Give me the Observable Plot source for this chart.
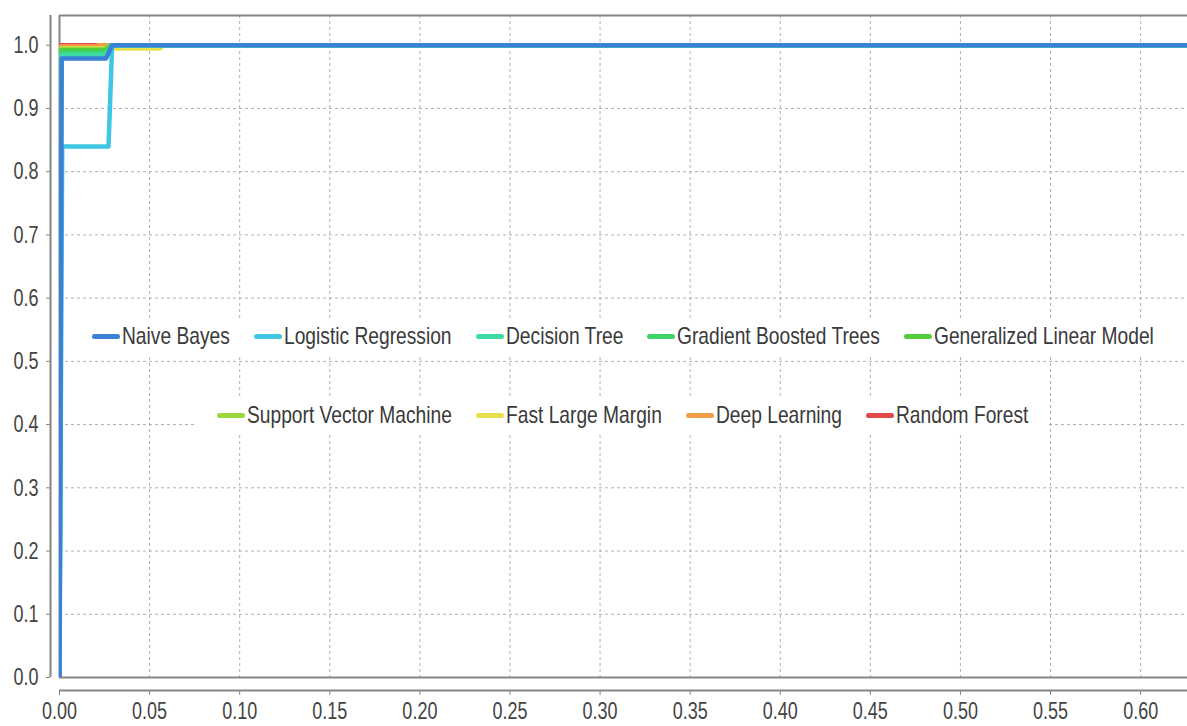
<!DOCTYPE html>
<html>
<head>
<meta charset="utf-8">
<script src="https://cdn.jsdelivr.net/npm/d3@7"></script>
<script src="https://cdn.jsdelivr.net/npm/@observablehq/plot@0.6"></script>
<style>
  html, body { margin: 0; padding: 0; background: #fff; }
  #wrap { position: relative; width: 1187px; height: 726px; overflow: hidden;
          font-family: "Liberation Sans", Arial, sans-serif; }
  .lrow { position: absolute; left: 59px; right: 0; height: 36px; display: flex; justify-content: center; align-items: center; }
  .lbox { background: #fff; display: flex; align-items: center; padding: 0 8px; height: 36px; }
  .item { display: flex; align-items: center; margin: 0 12px; font-size: 24px; color: #3a3a3a; white-space: nowrap; }
  .sw { display: inline-block; width: 28px; height: 5px; border-radius: 3px; margin-right: 2px; flex: none; }
  .tx { display: inline-block; transform-origin: 0 50%; }
</style>
</head>
<body>
<div id="wrap"></div>
<script>
// ---- data ----
const models = ["Naive Bayes", "Logistic Regression", "Decision Tree", "Gradient Boosted Trees",
  "Generalized Linear Model", "Support Vector Machine", "Fast Large Margin", "Deep Learning", "Random Forest"];
const colors = ["#3a80d6", "#3fc6e2", "#3ddca4", "#3fd267", "#55cc3c", "#9ad83e", "#e6e04a", "#eea049", "#e44848"];
const legendRows = [models.slice(0, 5), models.slice(5)];

// ROC points (false positive rate, true positive rate) per model
const fprNB  = [0, 0.0012, 0.0258, 0.0292, 1];  const tprNB  = [0, 0.979, 0.979, 1.0, 1.0];
const fprLR  = [0, 0.0015, 0.0272, 0.0292, 1];  const tprLR  = [0, 0.840, 0.840, 1.0, 1.0];
const fprDT  = [0, 0.0010, 0.0258, 0.0290, 1];  const tprDT  = [0, 0.985, 0.985, 1.0, 1.0];
const fprGBT = [0, 0.0010, 0.0258, 0.0288, 1];  const tprGBT = [0, 0.989, 0.989, 1.0, 1.0];
const fprGLM = [0, 0.0008, 0.0255, 0.0285, 1];  const tprGLM = [0, 0.992, 0.992, 1.0, 1.0];
const fprSVM = [0, 0.0008, 0.0250, 0.0280, 1];  const tprSVM = [0, 0.994, 0.994, 1.0, 1.0];
const fprFLM = [0, 0.0008, 0.0560, 0.0575, 1];  const tprFLM = [0, 0.995, 0.995, 1.0, 1.0];
const fprDL  = [0, 0.0006, 0.0200, 0.0220, 1];  const tprDL  = [0, 0.998, 0.998, 1.0, 1.0];
const fprRF  = [0, 0.0005, 1];                  const tprRF  = [0, 1.0, 1.0];

const xTicks = [0, 0.05, 0.10, 0.15, 0.20, 0.25, 0.30, 0.35, 0.40, 0.45, 0.50, 0.55, 0.60];
const yTicks = [0, 0.1, 0.2, 0.3, 0.4, 0.5, 0.6, 0.7, 0.8, 0.9, 1.0];
const xDomain = [0, 0.626];
const yDomain = [0, 1.047];

// ---- build table ----
const curves = {
  "Naive Bayes": [fprNB, tprNB], "Logistic Regression": [fprLR, tprLR], "Decision Tree": [fprDT, tprDT],
  "Gradient Boosted Trees": [fprGBT, tprGBT], "Generalized Linear Model": [fprGLM, tprGLM],
  "Support Vector Machine": [fprSVM, tprSVM], "Fast Large Margin": [fprFLM, tprFLM],
  "Deep Learning": [fprDL, tprDL], "Random Forest": [fprRF, tprRF]
};
const drawOrder = models.slice().reverse();
const rows = [];
drawOrder.forEach(m => {
  const [xs, ys] = curves[m];
  xs.forEach((x, i) => rows.push({model: m, fpr: x, tpr: ys[i]}));
});

const axisColor = "#858585";
const font = '"Liberation Sans", Arial, sans-serif';
const tickSqueeze = 0.75;
const legendSqueeze = 0.8;

const chart = Plot.plot({
  width: 1187,
  height: 726,
  marginLeft: 59,
  marginRight: 0,
  marginTop: 15,
  marginBottom: 49,
  style: {fontFamily: font, fontSize: "24px", color: "#444", background: "#fff", overflow: "visible"},
  x: {domain: xDomain},
  y: {domain: yDomain},
  color: {domain: models, range: colors},
  marks: [
    Plot.gridX(xTicks.slice(1), {stroke: "#b0b0b0", strokeOpacity: 1, strokeDasharray: "3,3"}),
    Plot.gridY(yTicks.slice(1), {stroke: "#b0b0b0", strokeOpacity: 1, strokeDasharray: "3,3"}),
    Plot.ruleY([yDomain[1]], {stroke: axisColor, strokeWidth: 2}),
    Plot.ruleY([0], {stroke: axisColor, strokeWidth: 2}),
    Plot.ruleX([0], {stroke: axisColor, strokeWidth: 2}),
    // separate axis lines
    Plot.ruleY([0], {stroke: axisColor, strokeWidth: 2, dy: 13}),
    Plot.ruleX([0], {stroke: axisColor, strokeWidth: 2, dx: -9}),
    Plot.axisX(xTicks, {tickFormat: d3.format(".2f"), tickSize: 5, tickPadding: 6, dy: 13,
      stroke: axisColor, fill: "#444", label: null, fontSize: 24}),
    Plot.axisY(yTicks, {tickFormat: d3.format(".1f"), tickSize: 4, tickPadding: 8, dx: -9,
      stroke: axisColor, fill: "#444", label: null, fontSize: 24}),
    Plot.line(rows, {x: "fpr", y: "tpr", z: "model", stroke: "model", strokeWidth: 4.5,
      strokeLinejoin: "round", strokeLinecap: "round", clip: true})
  ]
});

const wrap = document.getElementById("wrap");
wrap.appendChild(chart);

// condense tick labels (narrow face look)
chart.querySelectorAll("text").forEach(t => {
  const w = t.getComputedTextLength();
  if (w > 0) {
    t.setAttribute("textLength", (w * tickSqueeze).toFixed(2));
    t.setAttribute("lengthAdjust", "spacingAndGlyphs");
  }
});

const rowTops = [318, 397];
legendRows.forEach((r, ri) => {
  const row = document.createElement("div");
  row.className = "lrow";
  row.style.top = rowTops[ri] + "px";
  const box = document.createElement("div");
  box.className = "lbox";
  r.forEach(m => {
    const it = document.createElement("div");
    it.className = "item";
    const sw = document.createElement("span");
    sw.className = "sw";
    sw.style.background = colors[models.indexOf(m)];
    const tx = document.createElement("span");
    tx.className = "tx";
    tx.textContent = m;
    it.appendChild(sw);
    it.appendChild(tx);
    box.appendChild(it);
  });
  row.appendChild(box);
  wrap.appendChild(row);
});
document.querySelectorAll(".tx").forEach(tx => {
  const w = tx.getBoundingClientRect().width;
  tx.style.transform = `scaleX(${legendSqueeze})`;
  tx.style.marginRight = (-(w * (1 - legendSqueeze))).toFixed(2) + "px";
});
</script>
</body>
</html>
